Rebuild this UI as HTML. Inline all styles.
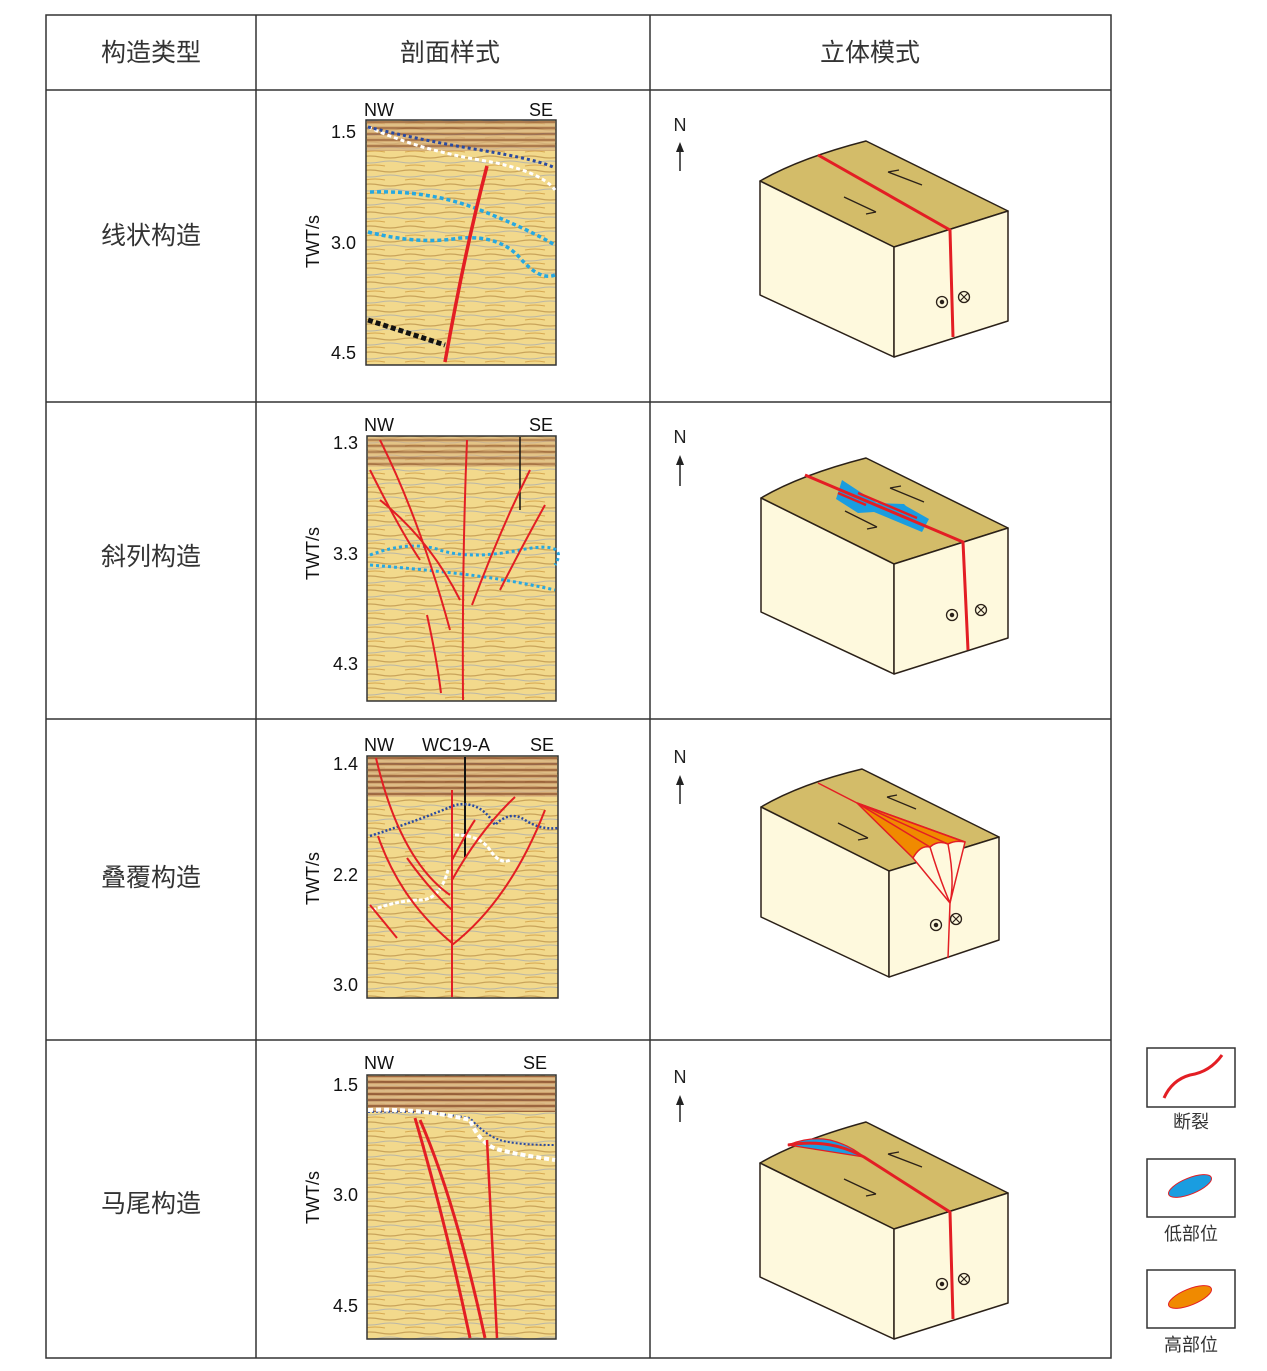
<!DOCTYPE html>
<html><head><meta charset="utf-8"><style>
html,body{margin:0;padding:0;background:#fff;}
svg{display:block;}
text{font-family:"Liberation Sans","Noto Sans CJK SC",sans-serif;}
</style></head><body>
<svg width="1267" height="1371" viewBox="0 0 1267 1371" xmlns="http://www.w3.org/2000/svg">
<defs>
<pattern id="seis" width="40" height="14" patternUnits="userSpaceOnUse">
<rect width="40" height="14" fill="#f2d98c"/>
<path d="M0 3 Q10 1 20 3 T40 3" stroke="#c9a35a" stroke-width="1.2" fill="none"/>
<path d="M0 8 Q10 10 20 8 T40 8" stroke="#b9b6a8" stroke-width="1" fill="none"/>
<path d="M5 12 Q15 10 25 12" stroke="#d8a850" stroke-width="1" fill="none"/>
</pattern>
<pattern id="band" width="60" height="6" patternUnits="userSpaceOnUse">
<rect width="60" height="6" fill="#c99a6a"/>
<path d="M0 2 H60" stroke="#7a3a20" stroke-width="1.4"/>
<path d="M0 5 H60" stroke="#e8d0a0" stroke-width="1"/>
</pattern>
</defs>
<g fill="none" stroke="#333" stroke-width="1.5">
<rect x="46" y="15" width="1065" height="1343"/>
<line x1="256" y1="15" x2="256" y2="1358"/>
<line x1="650" y1="15" x2="650" y2="1358"/>
<line x1="46" y1="90" x2="1111" y2="90"/>
<line x1="46" y1="402" x2="1111" y2="402"/>
<line x1="46" y1="719" x2="1111" y2="719"/>
<line x1="46" y1="1040" x2="1111" y2="1040"/>
</g>
<g font-size="25" fill="#333" text-anchor="middle">
<text x="151" y="61">构造类型</text>
<text x="450" y="61">剖面样式</text>
<text x="870" y="61">立体模式</text>
<text x="151" y="244">线状构造</text>
<text x="151" y="565">斜列构造</text>
<text x="151" y="886">叠覆构造</text>
<text x="151" y="1212">马尾构造</text>
</g>

<g font-size="18" fill="#111">
<rect x="366" y="120" width="190" height="245" fill="url(#seis)" stroke="#333" stroke-width="1.5"/>
<rect x="367" y="121" width="188" height="30" fill="url(#band)" opacity="0.7"/>
<text x="364" y="116">NW</text><text x="529" y="116">SE</text>
<text x="331" y="138">1.5</text><text x="331" y="249">3.0</text><text x="331" y="359">4.5</text>
<text transform="translate(319,268) rotate(-90)">TWT/s</text>
<path d="M368 127 Q420 150 480 160 T555 190" stroke="#fff" stroke-width="3" stroke-dasharray="4 3" fill="none"/>
<path d="M368 127 Q420 140 480 150 T555 168" stroke="#2a4aa0" stroke-width="3" stroke-dasharray="3 3" fill="none"/>
<path d="M370 192 Q430 190 480 210 T555 245" stroke="#27a8e0" stroke-width="3.5" stroke-dasharray="4 3" fill="none"/>
<path d="M368 232 Q420 245 460 238 Q500 235 520 258 T555 275" stroke="#27a8e0" stroke-width="3.5" stroke-dasharray="4 3" fill="none"/>
<path d="M368 320 L445 345" stroke="#111" stroke-width="5" stroke-dasharray="5 3"/>
<path d="M487 166 Q465 250 445 362" stroke="#e31e24" stroke-width="3.5" fill="none"/>
<rect x="367" y="436" width="189" height="265" fill="url(#seis)" stroke="#333" stroke-width="1.5"/>
<rect x="368" y="437" width="187" height="30" fill="url(#band)" opacity="0.6"/>
<text x="364" y="431">NW</text><text x="529" y="431">SE</text>
<text x="333" y="449">1.3</text><text x="333" y="560">3.3</text><text x="333" y="670">4.3</text>
<text transform="translate(319,580) rotate(-90)">TWT/s</text>
<line x1="520" y1="437" x2="520" y2="510" stroke="#111" stroke-width="1.5"/>
<path d="M370 555 Q410 540 440 550 T520 550 T555 565" stroke="#27a8e0" stroke-width="3" stroke-dasharray="3 3" fill="none"/>
<path d="M370 565 Q430 570 470 575 T555 590" stroke="#27a8e0" stroke-width="3" stroke-dasharray="3 3" fill="none"/>
<g stroke="#e31e24" stroke-width="2" fill="none">
<path d="M380 440 Q420 520 450 630"/><path d="M370 470 Q400 530 420 560"/>
<path d="M467 440 Q462 560 463 700"/><path d="M427 615 Q437 660 441 693"/>
<path d="M530 470 Q500 530 472 605"/><path d="M545 505 Q520 550 500 590"/>
<path d="M380 500 Q430 540 460 600"/>
</g>
<rect x="367" y="756" width="191" height="242" fill="url(#seis)" stroke="#333" stroke-width="1.5"/>
<rect x="368" y="757" width="189" height="40" fill="url(#band)" opacity="0.8"/>
<text x="364" y="751">NW</text><text x="422" y="751">WC19-A</text><text x="530" y="751">SE</text>
<text x="333" y="770">1.4</text><text x="333" y="881">2.2</text><text x="333" y="991">3.0</text>
<text transform="translate(319,905) rotate(-90)">TWT/s</text>
<line x1="465" y1="757" x2="465" y2="857" stroke="#111" stroke-width="2"/>
<path d="M370 836 Q420 820 455 805 Q480 800 495 825 Q510 810 525 820 T558 828" stroke="#2a4aa0" stroke-width="2.5" stroke-dasharray="2 2" fill="none"/>
<path d="M455 835 Q480 835 490 850 T510 860" stroke="#fff" stroke-width="3" stroke-dasharray="4 2" fill="none"/>
<path d="M372 910 Q400 900 420 900 T448 870" stroke="#fff" stroke-width="3" stroke-dasharray="4 2" fill="none"/>
<g stroke="#e31e24" stroke-width="2" fill="none">
<path d="M376 758 Q400 860 450 895"/><path d="M378 836 Q400 900 452 943"/>
<path d="M407 858 Q430 890 452 910"/><path d="M452 997 L452 790"/>
<path d="M452 945 Q510 900 545 810"/><path d="M452 880 Q480 830 515 797"/>
<path d="M452 860 Q468 830 475 820"/><path d="M370 905 L397 938"/>
</g>
<rect x="367" y="1075" width="189" height="264" fill="url(#seis)" stroke="#333" stroke-width="1.5"/>
<rect x="368" y="1076" width="187" height="36" fill="url(#band)" opacity="0.85"/>
<text x="364" y="1069">NW</text><text x="523" y="1069">SE</text>
<text x="333" y="1091">1.5</text><text x="333" y="1201">3.0</text><text x="333" y="1312">4.5</text>
<text transform="translate(319,1224) rotate(-90)">TWT/s</text>
<path d="M368 1112 Q420 1110 470 1118 Q485 1135 500 1140 T555 1145" stroke="#2a4aa0" stroke-width="2" stroke-dasharray="2 2" fill="none"/>
<path d="M368 1110 Q420 1108 470 1120 Q480 1145 500 1150 T555 1160" stroke="#fff" stroke-width="4" stroke-dasharray="5 3" fill="none"/>
<path d="M420 1120 Q455 1200 485 1338" stroke="#e31e24" stroke-width="3" fill="none"/>
<path d="M415 1118 Q445 1220 470 1338" stroke="#e31e24" stroke-width="3" fill="none"/>
<path d="M487 1140 L497 1338" stroke="#e31e24" stroke-width="2.5" fill="none"/>
</g>

<g font-size="18" fill="#222" text-anchor="middle" stroke="none">
<text x="680" y="131">N</text><text x="680" y="443">N</text><text x="680" y="763">N</text><text x="680" y="1083">N</text>
</g>
<g stroke="#222" stroke-width="1.5">
<line x1="680" y1="145" x2="680" y2="171"/><line x1="680" y1="458" x2="680" y2="486"/>
<line x1="680" y1="778" x2="680" y2="804"/><line x1="680" y1="1098" x2="680" y2="1122"/>
</g>
<g fill="#222">
<path d="M676 152 L680 142 L684 152Z"/><path d="M676 465 L680 455 L684 465Z"/>
<path d="M676 785 L680 775 L684 785Z"/><path d="M676 1105 L680 1095 L684 1105Z"/>
</g>

<g stroke="#2b2118" stroke-width="1.5" stroke-linejoin="round">
<path d="M760 181 Q800 158 866 141 L1008 211 L894 247 Z" fill="#d3bc69"/>
<path d="M760 181 L894 247 L894 357 L760 295 Z" fill="#fef9dd"/>
<path d="M894 247 L1008 211 L1008 321 L894 357 Z" fill="#fef9dd"/>
<path d="M818 155 L950 230 L953 337" stroke="#e31e24" stroke-width="3" fill="none"/>
<path d="M888 172 L922 185 M888 172 L899 170" fill="none" stroke-width="1.3"/>
<path d="M844 197 L876 212 M876 212 L866 214" fill="none" stroke-width="1.3"/>
<circle cx="942" cy="302" r="5.5" fill="none" stroke-width="1.3"/><circle cx="942" cy="302" r="1.5" fill="#222"/>
<circle cx="964" cy="297" r="5.5" fill="none" stroke-width="1.3"/><path d="M960 293 L968 301 M968 293 L960 301" stroke-width="1.2"/>
</g>
<g stroke="#2b2118" stroke-width="1.5" stroke-linejoin="round">
<path d="M761 498 Q800 475 866 458 L1008 528 L894 564 Z" fill="#d3bc69"/>
<path d="M761 498 L894 564 L894 674 L761 612 Z" fill="#fef9dd"/>
<path d="M894 564 L1008 528 L1008 638 L894 674 Z" fill="#fef9dd"/>
<path d="M842 480 L836 499 L858 513 L874 512 L922 532 L929 519 L906 506 L904 504 L877 503 Z" fill="#1a9de0" stroke="none"/>
<path d="M805 475 L963 542 L968 650" stroke="#e31e24" stroke-width="3" fill="none"/>
<path d="M838 493 L866 505 M858 493 L917 518" stroke="#e31e24" stroke-width="2.5"/>
<path d="M890 488 L924 502 M890 488 L901 486" fill="none" stroke-width="1.3"/>
<path d="M845 511 L877 527 M877 527 L867 529" fill="none" stroke-width="1.3"/>
<circle cx="952" cy="615" r="5.5" fill="none" stroke-width="1.3"/><circle cx="952" cy="615" r="1.5" fill="#222"/>
<circle cx="981" cy="610" r="5.5" fill="none" stroke-width="1.3"/><path d="M977 606 L985 614 M985 606 L977 614" stroke-width="1.2"/>
</g>
<g stroke="#2b2118" stroke-width="1.5" stroke-linejoin="round">
<path d="M761 807 Q800 784 862 769 L999 837 L889 871 Z" fill="#d3bc69"/>
<path d="M761 807 L889 871 L889 977 L761 917 Z" fill="#fef9dd"/>
<path d="M889 871 L999 837 L999 940 L889 977 Z" fill="#fef9dd"/>
<path d="M857 803 L965 842 L930 847 L913 858 Z" fill="#f08a00" stroke="#e31e24" stroke-width="1.5"/>
<path d="M913 858 Q920 845 930 847 Q938 840 948 844 Q955 840 965 842 L950 903 Z" fill="#fef9dd" stroke="#e31e24" stroke-width="1.5"/>
<path d="M818 783 L857 803 L965 842 M857 803 L930 847 M857 803 L948 844 M930 847 Q940 880 950 903 M948 844 Q955 880 950 903 L948 958" stroke="#e31e24" stroke-width="1.5" fill="none"/>
<path d="M887 797 L916 809 M887 797 L897 795" fill="none" stroke-width="1.3"/>
<path d="M838 823 L868 838 M868 838 L858 840" fill="none" stroke-width="1.3"/>
<circle cx="936" cy="925" r="5.5" fill="none" stroke-width="1.3"/><circle cx="936" cy="925" r="1.5" fill="#222"/>
<circle cx="956" cy="919" r="5.5" fill="none" stroke-width="1.3"/><path d="M952 915 L960 923 M960 915 L952 923" stroke-width="1.2"/>
</g>
<g stroke="#2b2118" stroke-width="1.5" stroke-linejoin="round">
<path d="M760 1163 Q800 1140 866 1122 L1008 1193 L894 1229 Z" fill="#d3bc69"/>
<path d="M760 1163 L894 1229 L894 1339 L760 1277 Z" fill="#fef9dd"/>
<path d="M894 1229 L1008 1193 L1008 1303 L894 1339 Z" fill="#fef9dd"/>
<path d="M788 1145 Q810 1136 830 1140 Q850 1145 864 1157 Q820 1150 788 1145 Z" fill="#1a9de0" stroke="#e31e24" stroke-width="1.2"/>
<path d="M788 1145 Q830 1138 864 1157 L950 1212 L953 1319" stroke="#e31e24" stroke-width="3" fill="none"/>
<path d="M888 1154 L922 1167 M888 1154 L899 1152" fill="none" stroke-width="1.3"/>
<path d="M844 1179 L876 1194 M876 1194 L866 1196" fill="none" stroke-width="1.3"/>
<circle cx="942" cy="1284" r="5.5" fill="none" stroke-width="1.3"/><circle cx="942" cy="1284" r="1.5" fill="#222"/>
<circle cx="964" cy="1279" r="5.5" fill="none" stroke-width="1.3"/><path d="M960 1275 L968 1283 M968 1275 L960 1283" stroke-width="1.2"/>
</g>

<g stroke="#333" stroke-width="1.5" fill="#fff">
<rect x="1147" y="1048" width="88" height="59"/>
<rect x="1147" y="1159" width="88" height="58"/>
<rect x="1147" y="1270" width="88" height="58"/>
</g>
<path d="M1164 1098 Q1172 1080 1190 1075 Q1210 1072 1222 1055" stroke="#e31e24" stroke-width="3" fill="none"/>
<ellipse cx="1190" cy="1186" rx="23" ry="8" transform="rotate(-22 1190 1186)" fill="#1a9de0" stroke="#e31e24" stroke-width="1"/>
<ellipse cx="1190" cy="1297" rx="23" ry="8" transform="rotate(-22 1190 1297)" fill="#f08a00" stroke="#e31e24" stroke-width="1"/>
<g font-size="18" fill="#333" text-anchor="middle">
<text x="1191" y="1128">断裂</text>
<text x="1191" y="1240">低部位</text>
<text x="1191" y="1351">高部位</text>
</g>
</svg>
</body></html>
